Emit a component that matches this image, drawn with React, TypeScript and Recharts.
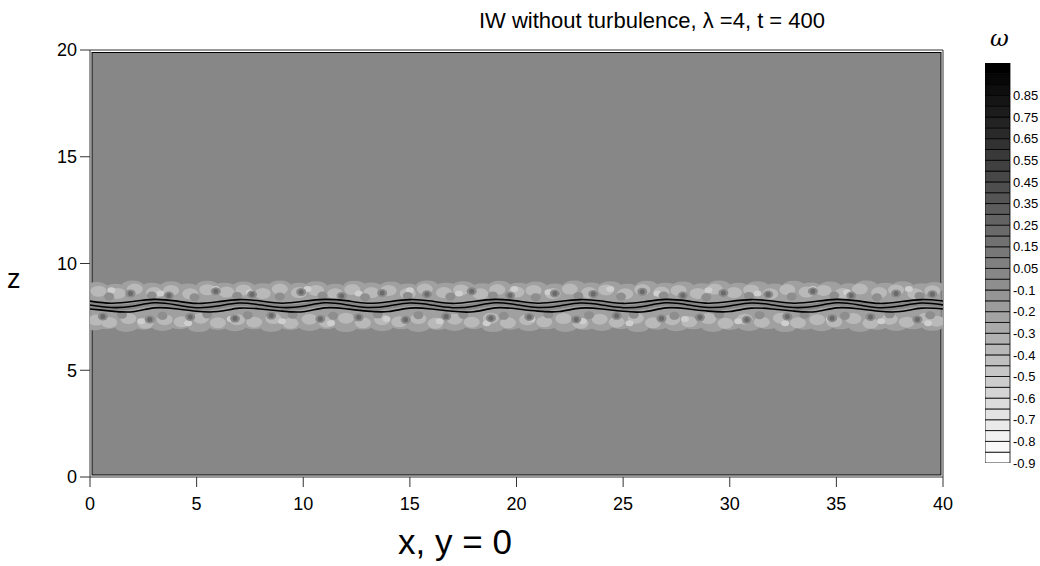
import React from 'react';
import {
  ComposedChart, BarChart, Bar, XAxis, YAxis, Line, Scatter, ReferenceArea,
} from 'recharts';

// wavy isopycnal lines, one value per unit of x (0..40)
const topLine = [8.24,8.14,8.22,8.32, 8.25,8.13,8.21,8.31, 8.24,8.14,8.23,8.32, 8.26,8.14,8.21,8.31, 8.24,8.13,8.22,8.32, 8.25,8.14,8.22,8.31, 8.24,8.13,8.21,8.32, 8.25,8.14,8.22,8.31, 8.24,8.14,8.22,8.32, 8.25,8.13,8.21,8.31, 8.24];
const midLine = [8.06,7.94,8.00,8.16, 8.07,7.93,8.01,8.15, 8.06,7.94,8.00,8.16, 8.07,7.94,8.01,8.15, 8.06,7.93,8.00,8.16, 8.07,7.94,8.01,8.15, 8.06,7.93,8.00,8.16, 8.07,7.94,8.01,8.15, 8.06,7.94,8.00,8.16, 8.07,7.93,8.01,8.15, 8.06];
const botLine = [7.87,7.77,7.74,7.92, 7.88,7.76,7.75,7.91, 7.87,7.77,7.74,7.92, 7.88,7.77,7.75,7.91, 7.87,7.76,7.74,7.92, 7.88,7.77,7.75,7.91, 7.87,7.76,7.74,7.92, 7.88,7.77,7.75,7.91, 7.87,7.77,7.74,7.92, 7.88,7.76,7.75,7.91, 7.87];

const edgeTop = [[0.3,8.9],[1.2,8.82],[2.0,8.97],[2.9,8.86],[3.8,8.93],[4.6,8.83],[5.5,8.96],[6.3,8.87],[7.2,8.92],[8.1,8.84],[8.9,8.97],[9.8,8.86],[10.6,8.93],[11.5,8.82],[12.4,8.96],[13.2,8.88],[14.1,8.92],[14.9,8.83],[15.8,8.97],[16.7,8.87],[17.5,8.93],[18.4,8.84],[19.2,8.96],[20.1,8.86],[20.9,8.92],[21.8,8.83],[22.7,8.97],[23.5,8.88],[24.4,8.93],[25.2,8.82],[26.1,8.96],[27.0,8.87],[27.8,8.92],[28.7,8.84],[29.5,8.97],[30.4,8.86],[31.3,8.93],[32.1,8.83],[33.0,8.96],[33.8,8.88],[34.7,8.92],[35.6,8.84],[36.4,8.97],[37.3,8.87],[38.1,8.93],[39.0,8.84],[39.6,8.9]];
const edgeBottom = [[0.2,7.1],[0.8,7.16],[1.7,7.03],[2.5,7.13],[3.4,7.07],[4.2,7.16],[5.1,7.02],[6.0,7.12],[6.8,7.06],[7.7,7.15],[8.5,7.03],[9.4,7.12],[10.3,7.07],[11.1,7.16],[12.0,7.02],[12.8,7.13],[13.7,7.06],[14.6,7.15],[15.4,7.03],[16.3,7.12],[17.1,7.07],[18.0,7.16],[18.9,7.02],[19.7,7.13],[20.6,7.06],[21.4,7.15],[22.3,7.03],[23.2,7.12],[24.0,7.07],[24.9,7.16],[25.7,7.02],[26.6,7.13],[27.5,7.06],[28.3,7.15],[29.2,7.03],[30.0,7.12],[30.9,7.07],[31.8,7.16],[32.6,7.02],[33.5,7.13],[34.3,7.06],[35.2,7.15],[36.1,7.03],[36.9,7.12],[37.8,7.07],[38.6,7.15],[39.5,7.08]];
const lightUpper = [[0.4,8.7],[1.3,8.6],[2.1,8.8],[3.0,8.64],[3.8,8.74],[4.7,8.58],[5.5,8.77],[6.4,8.66],[7.2,8.76],[8.1,8.6],[8.9,8.8],[9.8,8.64],[10.6,8.74],[11.5,8.58],[12.3,8.78],[13.2,8.64],[14.0,8.74],[14.9,8.6],[15.7,8.8],[16.6,8.64],[17.4,8.76],[18.3,8.58],[19.1,8.78],[20.0,8.66],[20.8,8.74],[21.7,8.6],[22.5,8.8],[23.4,8.64],[24.2,8.76],[25.1,8.58],[25.9,8.78],[26.8,8.66],[27.6,8.74],[28.5,8.6],[29.3,8.8],[30.2,8.64],[31.0,8.76],[31.9,8.58],[32.7,8.78],[33.6,8.66],[34.4,8.74],[35.3,8.6],[36.1,8.8],[37.0,8.64],[37.8,8.76],[38.7,8.58],[39.5,8.72]];
const lightLower = [[0.3,7.35],[0.9,7.24],[1.8,7.42],[2.6,7.2],[3.5,7.37],[4.3,7.27],[5.2,7.44],[6.0,7.22],[6.9,7.37],[7.7,7.25],[8.6,7.42],[9.4,7.2],[10.3,7.39],[11.1,7.25],[12.0,7.44],[12.8,7.22],[13.7,7.37],[14.5,7.27],[15.4,7.42],[16.2,7.2],[17.1,7.39],[17.9,7.25],[18.8,7.44],[19.6,7.22],[20.5,7.37],[21.3,7.27],[22.2,7.42],[23.0,7.2],[23.9,7.39],[24.7,7.25],[25.6,7.44],[26.4,7.22],[27.3,7.37],[28.1,7.27],[29.0,7.42],[29.8,7.2],[30.7,7.39],[31.5,7.25],[32.4,7.44],[33.2,7.22],[34.1,7.37],[34.9,7.27],[35.8,7.42],[36.6,7.2],[37.5,7.39],[38.3,7.25],[39.2,7.44],[39.7,7.3]];
const paleSpots = [[1.0,8.75],[2.4,7.3],[3.3,8.6],[4.6,7.2],[5.9,8.8],[6.6,7.4],[7.5,8.65],[9.0,7.3],[10.2,8.8],[11.3,7.2],[12.6,8.6],[13.9,7.4],[15.0,8.75],[16.4,7.3],[17.3,8.6],[18.6,7.2],[19.9,8.8],[20.7,7.4],[21.5,8.65],[23.1,7.3],[24.4,8.8],[25.3,7.2],[26.6,8.6],[27.9,7.4],[29.0,8.75],[30.4,7.3],[31.3,8.6],[32.6,7.2],[33.9,8.8],[34.7,7.4],[35.5,8.65],[37.1,7.3],[38.4,8.8],[39.3,7.2]];
const centerLight = [[0.6,7.9],[4.6,7.91],[8.6,7.9],[12.6,7.91],[16.6,7.9],[20.6,7.91],[24.6,7.9],[28.6,7.91],[32.6,7.9],[36.6,7.91]];
const darkSpots = [[1.9,8.6],[3.7,8.5],[5.9,8.7],[7.6,8.55],[9.9,8.66],[11.8,8.48],[13.7,8.62],[15.8,8.56],[17.9,8.7],[19.7,8.5],[21.8,8.6],[23.6,8.57],[25.9,8.68],[27.8,8.5],[29.7,8.62],[31.8,8.55],[33.9,8.7],[35.7,8.5],[37.8,8.6],[39.5,8.56],
  [0.6,7.52],[2.8,7.38],[4.7,7.5],[6.8,7.42],[8.5,7.56],[10.8,7.4],[12.6,7.48],[14.8,7.36],[16.7,7.52],[18.8,7.44],[20.6,7.5],[22.8,7.38],[24.7,7.55],[26.8,7.42],[28.6,7.48],[30.8,7.36],[32.7,7.52],[34.8,7.44],[36.6,7.5],[38.8,7.38]];
const midSpots = [[0.9,8.45],[2.9,8.5],[4.9,8.42],[6.9,8.48],[8.9,8.45],[10.9,8.5],[12.9,8.42],[14.9,8.48],[16.9,8.45],[18.9,8.5],[20.9,8.42],[22.9,8.48],[24.9,8.45],[26.9,8.5],[28.9,8.42],[30.9,8.48],[32.9,8.45],[34.9,8.5],[36.9,8.42],[38.9,8.48],
  [1.5,7.6],[3.4,7.55],[5.5,7.62],[7.4,7.58],[9.5,7.6],[11.4,7.55],[13.5,7.62],[15.4,7.58],[17.5,7.6],[19.4,7.55],[21.5,7.62],[23.4,7.58],[25.5,7.6],[27.4,7.55],[29.5,7.62],[31.4,7.58],[33.5,7.6],[35.4,7.55],[37.5,7.62],[39.4,7.58]];

const xTicks = [0, 5, 10, 15, 20, 25, 30, 35, 40];
const zTicks = [0, 5, 10, 15, 20];
const cbLabels = ['-0.9','-0.8','-0.7','-0.6','-0.5','-0.4','-0.3','-0.2','-0.1','0.05','0.15','0.25','0.35','0.45','0.55','0.65','0.75','0.85'];
const cbBands = 37;

const font = '"Liberation Sans", Arial, sans-serif';
const toPts = (arr: number[][]) => arr.map(([x, z]) => ({ x, z }));
const linePts = (arr: number[]) => arr.map((z, i) => ({ x: i, z }));

const blob = (rx: number, ry: number, fill: string) => (p: any) =>
  <ellipse cx={p.cx} cy={p.cy} rx={rx} ry={ry} fill={fill} />;

const cbRow: Record<string, number | string> = { name: 'w' };
for (let i = 0; i < cbBands; i++) cbRow['b' + i] = 1;
const cbGray = (i: number) => {
  const g = Math.round(255 * (1 - i / (cbBands - 1)));
  return `rgb(${g},${g},${g})`;
};

const tickStyle = { fontSize: 18, fill: '#000', fontFamily: font };

export default function App() {
  return (
    <div style={{ position: 'absolute', left: 0, top: 0, width: 1040, height: 566, background: '#fff', fontFamily: font }}>
      <ComposedChart width={1040} height={566} margin={{ top: 0, right: 0, bottom: 0, left: 0 }}>
        <XAxis xAxisId={0} dataKey="x" type="number" domain={[0, 40]} ticks={xTicks} allowDataOverflow
          height={89} tickSize={10} tickMargin={10} stroke="#333" tick={tickStyle} />
        <XAxis xAxisId="top" orientation="top" dataKey="x" type="number" domain={[0, 40]} ticks={xTicks}
          allowDataOverflow height={50} tickSize={9} tick={false} stroke="#333" />
        <YAxis yAxisId={0} dataKey="z" type="number" domain={[0, 20]} ticks={zTicks} allowDataOverflow
          width={90} tickSize={10} tickMargin={3} stroke="#333" tick={tickStyle} />
        <YAxis yAxisId="right" orientation="right" dataKey="z" type="number" domain={[0, 20]} ticks={zTicks}
          allowDataOverflow width={97} tickSize={9} tick={false} stroke="#333" />

        <ReferenceArea x1={0} x2={40} y1={0} y2={20} ifOverflow="visible"
          shape={(p: any) => (
            <rect x={p.x + 2} y={p.y + 2.5} width={p.width - 4} height={p.height - 4.5}
              fill="#878787" stroke="#000" strokeWidth={1} />
          )} />
        <ReferenceArea x1={0.05} x2={39.9} y1={7.15} y2={8.85} fill="#a0a0a0" fillOpacity={1} stroke="none" />

        <Scatter data={toPts(edgeTop)} shape={blob(11, 5, '#a0a0a0')} isAnimationActive={false} />
        <Scatter data={toPts(edgeBottom)} shape={blob(11, 5, '#a0a0a0')} isAnimationActive={false} />
        <Scatter data={toPts(lightUpper)} shape={blob(8, 5.5, '#b9b9b9')} isAnimationActive={false} />
        <Scatter data={toPts(lightLower)} shape={blob(8, 5.5, '#b9b9b9')} isAnimationActive={false} />
        <Scatter data={toPts(centerLight)} shape={blob(10, 2.5, '#b5b5b5')} isAnimationActive={false} />
        <Scatter data={toPts(paleSpots)} shape={blob(4, 3, '#cecece')} isAnimationActive={false} />
        <Scatter data={toPts(midSpots)} shape={blob(5, 4, '#8e8e8e')} isAnimationActive={false} />
        <Scatter data={toPts(darkSpots)} shape={blob(5, 4, '#8a8a8a')} isAnimationActive={false} />
        <Scatter data={toPts(darkSpots)} shape={blob(2.5, 2.5, '#6a6a6a')} isAnimationActive={false} />

        <Line data={linePts(midLine)} dataKey="z" type="natural" stroke="#868686" strokeWidth={6} dot={false} isAnimationActive={false} zIndex={650} />
        <Line data={linePts(topLine)} dataKey="z" type="natural" stroke="#000" strokeWidth={1.6} dot={false} isAnimationActive={false} zIndex={700} />
        <Line data={linePts(midLine)} dataKey="z" type="natural" stroke="#000" strokeWidth={1.6} dot={false} isAnimationActive={false} zIndex={700} />
        <Line data={linePts(botLine)} dataKey="z" type="natural" stroke="#000" strokeWidth={1.6} dot={false} isAnimationActive={false} zIndex={700} />
      </ComposedChart>

      <div style={{ position: 'absolute', left: 0, width: 1304, top: 10, textAlign: 'center', fontSize: 22, lineHeight: 1, whiteSpace: 'nowrap' }}>
        IW without turbulence, λ =4, t = 400
      </div>
      <div style={{ position: 'absolute', left: 7, top: 266, fontSize: 27, lineHeight: 1 }}>z</div>
      <div style={{ position: 'absolute', left: 0, width: 910, top: 524, textAlign: 'center', fontSize: 35, lineHeight: 1, whiteSpace: 'nowrap' }}>
        x, y = 0
      </div>
      <div style={{ position: 'absolute', left: 990, top: 27, fontSize: 23, lineHeight: 1, fontStyle: 'italic', fontFamily: '"DejaVu Serif", serif' }}>ω</div>

      <div style={{ position: 'absolute', left: 985, top: 55 }}>
        <BarChart width={55} height={420} data={[cbRow]} margin={{ top: 8, right: 0, bottom: 12, left: 0 }} barCategoryGap={0}>
          <XAxis dataKey="name" hide />
          <YAxis orientation="right" type="number" domain={[0, cbBands]} width={30} allowDataOverflow
            ticks={cbLabels.map((_, i) => i * 2)} tickFormatter={(v: number) => cbLabels[v / 2]}
            tickLine={false} axisLine={false} tickSize={0} tickMargin={3}
            tick={{ fontSize: 13, fill: '#000', fontFamily: font }} interval={0} />
          {Array.from({ length: cbBands }, (_, i) => (
            <Bar key={i} dataKey={'b' + i} stackId="cb" fill={cbGray(i)} stroke="#000" strokeWidth={0.8} isAnimationActive={false} />
          ))}
        </BarChart>
      </div>
    </div>
  );
}
